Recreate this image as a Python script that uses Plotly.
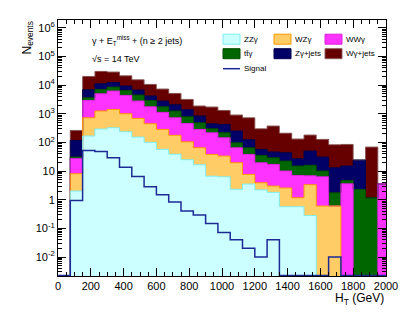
import numpy as np
import plotly.graph_objects as go

# ---------------- data (events per 75 GeV bin, H_T from 0 to 2025 GeV) ----------------
BIN_WIDTH = 75
N_BINS = 27

zz_gamma = [0, 2.0, 166, 292, 324, 235, 153, 100, 57, 38.6, 24.8, 16.6, 6.6, 6.3,
            2.3, 3.5, 2.2, 1.8, 0.57, 0.57, 0.28, 0, 0, 0, 0, 0, 0]
wz_gamma = [0, 6.05, 558, 948, 1086, 763, 531, 347, 226, 138, 80, 48.4, 31.3, 27,
            17.2, 4.1, 1.7, 1.2, 2.0, 0.6, 3.05, 0.6, 0.6, 0, 0, 0, 0]
ww_gamma = [0, 19.5, 2181, 3740, 4770, 3347, 2086, 1307, 826, 547, 353, 218, 179, 112,
            45.5, 30.3, 15.6, 14, 7.4, 5.85, 3.53, 5.73, 0, 3.6, 0, 0, 3.6]
tt_gamma = [0, 3.3, 705, 2055, 2350, 2145, 1717, 1151, 645, 517, 327, 201, 82, 72,
            32, 27, 15.5, 12.1, 12.3, 7.9, 9.0, 3.67, 1.15, 1.1, 2.28, 1.17, 0]
zgamma_jets = [0, 86, 3260, 4085, 3810, 2755, 2213, 1235, 1016, 815, 592, 346, 148, 206,
               152, 59, 21.8, 16.9, 21.2, 12, 34, 20.8, 11.3, 10.2, 21.9, 0, 0]
wgamma_jets = [0, 144, 13130, 18780, 16110, 11885, 8650, 6380, 4490, 3044, 1773, 1023, 1263, 877,
               651, 600, 242, 326, 165, 104, 130, 96, 69.8, 69.8, 0, 67.5, 0]
signal = [0, 0.93, 52, 48, 29, 13.5, 6.5, 2.8, 1.5, 0.83, 0.40, 0.29, 0.148, 0.072,
          0.040, 0.020, 0.010, 0.040, 0, 0, 0, 0, 0.010, 0, 0, 0, 0]

series_names = ["ZZγ", "WZγ", "WWγ", "tt\u0304γ", "Zγ+jets", "Wγ+jets"]
series_values = [zz_gamma, wz_gamma, ww_gamma, tt_gamma, zgamma_jets, wgamma_jets]

y_tick_vals = [1e-2, 1e-1, 1, 10, 1e2, 1e3, 1e4, 1e5, 1e6]
y_tick_text = ["10<sup>-2</sup>", "10<sup>-1</sup>", "1", "10", "10<sup>2</sup>",
               "10<sup>3</sup>", "10<sup>4</sup>", "10<sup>5</sup>", "10<sup>6</sup>"]
x_tick_vals = list(range(0, 2001, 200))

# ---------------- styling ----------------
fill_colors = ["#ccffff", "#ffcc66", "#ff33ff", "#006600", "#000066", "#660000"]
edge_colors = ["#7feeee", "#ff9900", "#dd22dd", "#004a00", "#00004a", "#8c5a5a"]
signal_color = "#1c2a96"
FONT = "Liberation Sans, Arial, sans-serif"

Y_LOG_RANGE = [-2.663, 6.27]

edges = np.arange(N_BINS + 1) * BIN_WIDTH
centers = edges[:-1] + BIN_WIDTH / 2.0
FLOOR = 1e-5  # below visible range: draws histogram drops down to the axis
SIG_FLOOR = 10 ** (Y_LOG_RANGE[0] + 0.02)  # empty signal bins drawn along the axis, as in ROOT

fig = go.Figure()

for name, vals, fc in zip(series_names, series_values, fill_colors):
    fig.add_trace(go.Bar(x=centers, y=vals, width=BIN_WIDTH, name=name,
                         marker=dict(color=fc, line=dict(width=0)),
                         showlegend=False, hoverinfo="skip"))

cum = np.cumsum(np.array(series_values, dtype=float), axis=0)
for level in reversed(range(len(series_values))):
    yv = np.where(cum[level] > 0, cum[level], FLOOR)
    fig.add_trace(go.Scatter(x=edges, y=np.append(yv, yv[-1]), mode="lines",
                             line=dict(shape="hv", color=edge_colors[level], width=1),
                             showlegend=False, hoverinfo="skip"))

sig = np.array(signal, dtype=float)
sig = np.where(sig > 0, sig, SIG_FLOOR)
fig.add_trace(go.Scatter(x=edges, y=np.append(sig, sig[-1]), mode="lines",
                         line=dict(shape="hv", color=signal_color, width=1.5),
                         showlegend=False, hoverinfo="skip"))

# ---------------- layout ----------------
W, H = 407, 315
L, R, T, B = 50, 378, 12.3, 268.3


def px(xp):
    return (xp - L) / (R - L)


def py(yp):
    return (B - yp) / (B - T)


fig.update_layout(
    width=W, height=H,
    margin=dict(l=L, r=W - R, t=T, b=H - B, pad=0, autoexpand=False),
    paper_bgcolor="white", plot_bgcolor="white",
    barmode="stack", bargap=0,
    font=dict(family=FONT, size=11, color="black"),
    showlegend=False,
)
fig.update_xaxes(
    range=[0, 2000], tickvals=x_tick_vals, ticks="inside", ticklen=8, tickwidth=1,
    tickcolor="black", showline=True, linecolor="black", linewidth=1, mirror="ticks",
    showgrid=False, zeroline=False, tickfont=dict(size=11), automargin=False,
    minor=dict(dtick=50, tick0=0, ticks="inside", ticklen=4, tickcolor="black", showgrid=False),
)
minor_y = [m * 10.0 ** d for d in range(-3, 7) for m in range(2, 10)]
fig.update_yaxes(
    type="log", range=Y_LOG_RANGE, tickvals=y_tick_vals, ticktext=y_tick_text,
    ticks="inside", ticklen=8, tickwidth=1, tickcolor="black",
    showline=True, linecolor="black", linewidth=1, mirror="ticks",
    showgrid=False, zeroline=False, tickfont=dict(size=11), automargin=False,
    minor=dict(tickvals=minor_y, ticks="inside", ticklen=4, tickcolor="black", showgrid=False),
)

ann = []
shapes = []
# axis titles
ann.append(dict(text="N<sub>events</sub>", x=px(19), y=1.0, xref="paper", yref="paper",
                xanchor="center", yanchor="top", textangle=-90, showarrow=False,
                font=dict(size=12)))
ann.append(dict(text="H<sub>T</sub> (GeV)", x=1.0, y=py(291), xref="paper", yref="paper",
                xanchor="right", yanchor="middle", showarrow=False, font=dict(size=12)))
# labels
ann.append(dict(text="γ + E<sub>T</sub><sup>miss</sup> + (n ≥ 2 jets)", x=px(82), y=py(33),
                xref="paper", yref="paper", xanchor="left", yanchor="middle",
                showarrow=False, font=dict(size=9)))
ann.append(dict(text="√s = 14 TeV", x=px(82), y=py(51), xref="paper", yref="paper",
                xanchor="left", yanchor="middle", showarrow=False, font=dict(size=9)))

# manual legend (3 columns)
col_x = [215, 266, 317]
row_y = [31.5, 46, 61]
for i, name in enumerate(series_names):
    cx = col_x[i % 3]
    cy = row_y[i // 3]
    shapes.append(dict(type="rect", xref="paper", yref="paper",
                       x0=px(cx), x1=px(cx + 17), y0=py(cy + 5), y1=py(cy - 5),
                       fillcolor=fill_colors[i], line=dict(color=edge_colors[i], width=1)))
    ann.append(dict(text=name, x=px(cx + 19), y=py(cy), xref="paper", yref="paper",
                    xanchor="left", yanchor="middle", showarrow=False, font=dict(size=8)))
shapes.append(dict(type="line", xref="paper", yref="paper",
                   x0=px(215), x1=px(232), y0=py(row_y[2]), y1=py(row_y[2]),
                   line=dict(color=signal_color, width=1.5)))
ann.append(dict(text="Signal", x=px(234), y=py(row_y[2]), xref="paper", yref="paper",
                xanchor="left", yanchor="middle", showarrow=False, font=dict(size=8)))

fig.update_layout(annotations=ann, shapes=shapes)
fig.write_html("out.html")
